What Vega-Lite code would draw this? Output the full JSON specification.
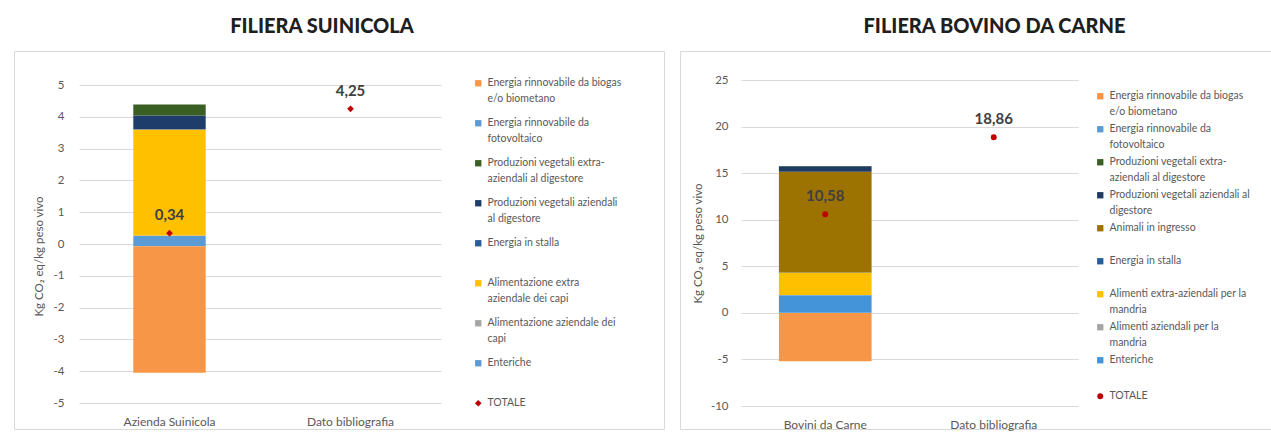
{
  "$schema": "https://vega.github.io/schema/vega-lite/v6.json",
  "background": "white",
  "padding": {"left": 13, "top": 16, "right": 0, "bottom": 0},
  "spacing": 14,
  "datasets": {
    "suini_voci": [
      {"categoria": "Azienda Suinicola", "voce": "Enteriche", "ordine": 1, "valore": 0.25},
      {"categoria": "Azienda Suinicola", "voce": "Alimentazione aziendale dei capi", "ordine": 2, "valore": 0.02},
      {"categoria": "Azienda Suinicola", "voce": "Alimentazione extra aziendale dei capi", "ordine": 3, "valore": 3.33},
      {"categoria": "Azienda Suinicola", "voce": "Energia in stalla", "ordine": 4, "valore": 0.02},
      {"categoria": "Azienda Suinicola", "voce": "Produzioni vegetali aziendali al digestore", "ordine": 5, "valore": 0.42},
      {"categoria": "Azienda Suinicola", "voce": "Produzioni vegetali extra-aziendali al digestore", "ordine": 6, "valore": 0.35},
      {"categoria": "Azienda Suinicola", "voce": "Energia rinnovabile da fotovoltaico", "ordine": 7, "valore": -0.07},
      {"categoria": "Azienda Suinicola", "voce": "Energia rinnovabile da biogas e/o biometano", "ordine": 8, "valore": -3.98}
    ],
    "suini_totali": [
      {"categoria": "Azienda Suinicola", "serie": "TOTALE", "totale": 0.34},
      {"categoria": "Dato bibliografia", "serie": "TOTALE", "totale": 4.25}
    ],
    "bovini_voci": [
      {"categoria": "Bovini da Carne", "voce": "Enteriche", "ordine": 1, "valore": 1.9},
      {"categoria": "Bovini da Carne", "voce": "Alimenti aziendali per la mandria", "ordine": 2, "valore": 0.02},
      {"categoria": "Bovini da Carne", "voce": "Alimenti extra-aziendali per la mandria", "ordine": 3, "valore": 2.38},
      {"categoria": "Bovini da Carne", "voce": "Energia in stalla", "ordine": 4, "valore": 0.02},
      {"categoria": "Bovini da Carne", "voce": "Animali in ingresso", "ordine": 5, "valore": 10.83},
      {"categoria": "Bovini da Carne", "voce": "Produzioni vegetali aziendali al digestore", "ordine": 6, "valore": 0.6},
      {"categoria": "Bovini da Carne", "voce": "Produzioni vegetali extra-aziendali al digestore", "ordine": 7, "valore": 0.03},
      {"categoria": "Bovini da Carne", "voce": "Energia rinnovabile da fotovoltaico", "ordine": 8, "valore": -0.02},
      {"categoria": "Bovini da Carne", "voce": "Energia rinnovabile da biogas e/o biometano", "ordine": 9, "valore": -5.18}
    ],
    "bovini_totali": [
      {"categoria": "Bovini da Carne", "serie": "TOTALE", "totale": 10.58},
      {"categoria": "Dato bibliografia", "serie": "TOTALE", "totale": 18.86}
    ]
  },
  "hconcat": [
    {
      "width": 650,
      "height": 378,
      "title": {"text": "FILIERA SUINICOLA", "dx": -17, "offset": 14},
      "layer": [
        {
          "data": {"name": "suini_voci"},
          "mark": {"type": "bar"},
          "encoding": {
            "x": {
              "field": "categoria", "type": "nominal", "title": null,
              "scale": {"domain": ["Azienda Suinicola", "Dato bibliografia"], "range": [65, 427], "paddingInner": 0.6, "paddingOuter": 0.3},
              "axis": {"orient": "bottom", "offset": -26, "labelPadding": 13}
            },
            "y": {
              "field": "valore", "type": "quantitative", "stack": "zero",
              "title": "Kg CO₂ eq/kg peso vivo",
              "scale": {"domain": [-5, 5], "range": [352, 34], "nice": false, "zero": false},
              "axis": {"offset": -65, "labelPadding": 15, "values": [-5, -4, -3, -2, -1, 0, 1, 2, 3, 4, 5], "tickCount": 20, "format": "d", "labelOverlap": false, "labelBound": false, "titleX": -40, "titleY": 205}
            },
            "color": {
              "field": "voce", "type": "nominal",
              "scale": {
                "domain": [
                  "Energia rinnovabile da biogas e/o biometano",
                  "Energia rinnovabile da fotovoltaico",
                  "Produzioni vegetali extra-aziendali al digestore",
                  "Produzioni vegetali aziendali al digestore",
                  "Energia in stalla",
                  "Alimentazione extra aziendale dei capi",
                  "Alimentazione aziendale dei capi",
                  "Enteriche"
                ],
                "range": ["#F79646", "#5B9BD5", "#3A5F24", "#1E3D6B", "#2B5C9A", "#FFC000", "#A5A5A5", "#5B9BD5"]
              },
              "legend": {
                "orient": "none", "legendX": 459, "legendY": 27, "rowPadding": 13,
                "encode": {"labels": {"update": {"lineHeight": {"value": 15.5}}}},
                "labelExpr": "datum.label == 'Energia rinnovabile da biogas e/o biometano' ? ['Energia rinnovabile da biogas', 'e/o biometano'] : datum.label == 'Energia rinnovabile da fotovoltaico' ? ['Energia rinnovabile da', 'fotovoltaico'] : datum.label == 'Produzioni vegetali extra-aziendali al digestore' ? ['Produzioni vegetali extra-', 'aziendali al digestore'] : datum.label == 'Produzioni vegetali aziendali al digestore' ? ['Produzioni vegetali aziendali', 'al digestore'] : datum.label == 'Alimentazione extra aziendale dei capi' ? ['Alimentazione extra', 'aziendale dei capi'] : datum.label == 'Alimentazione aziendale dei capi' ? ['Alimentazione aziendale dei', 'capi'] : [datum.label, '']"
              }
            },
            "order": {"field": "ordine", "type": "quantitative"}
          }
        },
        {
          "data": {"name": "suini_totali"},
          "mark": {"type": "point", "filled": true, "color": "#C00000", "size": 45, "opacity": 1},
          "encoding": {
            "x": {"field": "categoria", "type": "nominal", "title": null},
            "y": {"field": "totale", "type": "quantitative", "title": "Kg CO₂ eq/kg peso vivo"},
            "shape": {
              "field": "serie", "type": "nominal",
              "scale": {"domain": ["TOTALE"], "range": ["diamond"]},
              "legend": {"orient": "none", "legendX": 459, "legendY": 347, "symbolFillColor": "#C00000", "symbolStrokeColor": "#C00000", "symbolSize": 45}
            }
          }
        },
        {
          "data": {"name": "suini_totali"},
          "mark": {"type": "text", "dy": -18, "fontSize": 15, "fontWeight": "bold", "color": "#404040", "baseline": "middle"},
          "encoding": {
            "x": {"field": "categoria", "type": "nominal", "title": null},
            "y": {"field": "totale", "type": "quantitative", "title": "Kg CO₂ eq/kg peso vivo"},
            "text": {"field": "totale", "type": "quantitative", "format": ".2f"}
          }
        }
      ]
    },
    {
      "width": 593,
      "height": 378,
      "title": {"text": "FILIERA BOVINO DA CARNE", "dx": 18, "offset": 14},
      "layer": [
        {
          "data": {"name": "bovini_voci"},
          "mark": {"type": "bar"},
          "encoding": {
            "x": {
              "field": "categoria", "type": "nominal", "title": null,
              "scale": {"domain": ["Bovini da Carne", "Dato bibliografia"], "range": [61, 398], "paddingInner": 0.45, "paddingOuter": 0.225},
              "axis": {"orient": "bottom", "offset": -23, "labelPadding": 13}
            },
            "y": {
              "field": "valore", "type": "quantitative", "stack": "zero",
              "title": "Kg CO₂ eq/kg peso vivo",
              "scale": {"domain": [-10, 25], "range": [355, 29], "nice": false, "zero": false},
              "axis": {"offset": -61, "labelPadding": 13, "values": [-10, -5, 0, 5, 10, 15, 20, 25], "tickCount": 20, "format": "d", "labelOverlap": false, "labelBound": false, "titleX": -43, "titleY": 192}
            },
            "color": {
              "field": "voce", "type": "nominal",
              "scale": {
                "domain": [
                  "Energia rinnovabile da biogas e/o biometano",
                  "Energia rinnovabile da fotovoltaico",
                  "Produzioni vegetali extra-aziendali al digestore",
                  "Produzioni vegetali aziendali al digestore",
                  "Animali in ingresso",
                  "Energia in stalla",
                  "Alimenti extra-aziendali per la mandria",
                  "Alimenti aziendali per la mandria",
                  "Enteriche"
                ],
                "range": ["#F79646", "#5B9BD5", "#3A5F24", "#1E3B62", "#9C7200", "#2B5C9A", "#FFC000", "#A5A5A5", "#4494DA"]
              },
              "legend": {
                "orient": "none", "legendX": 415, "legendY": 40, "rowPadding": 6,
                "encode": {"labels": {"update": {"lineHeight": {"value": 15.5}}}},
                "labelExpr": "datum.label == 'Energia rinnovabile da biogas e/o biometano' ? ['Energia rinnovabile da biogas', 'e/o biometano'] : datum.label == 'Energia rinnovabile da fotovoltaico' ? ['Energia rinnovabile da', 'fotovoltaico'] : datum.label == 'Produzioni vegetali extra-aziendali al digestore' ? ['Produzioni vegetali extra-', 'aziendali al digestore'] : datum.label == 'Produzioni vegetali aziendali al digestore' ? ['Produzioni vegetali aziendali al', 'digestore'] : datum.label == 'Alimenti extra-aziendali per la mandria' ? ['Alimenti extra-aziendali per la', 'mandria'] : datum.label == 'Alimenti aziendali per la mandria' ? ['Alimenti aziendali per la', 'mandria'] : [datum.label, '']"
              }
            },
            "order": {"field": "ordine", "type": "quantitative"}
          }
        },
        {
          "data": {"name": "bovini_totali"},
          "mark": {"type": "point", "filled": true, "color": "#C00000", "size": 35, "opacity": 1},
          "encoding": {
            "x": {"field": "categoria", "type": "nominal", "title": null},
            "y": {"field": "totale", "type": "quantitative", "title": "Kg CO₂ eq/kg peso vivo"},
            "shape": {
              "field": "serie", "type": "nominal",
              "scale": {"domain": ["TOTALE"], "range": ["circle"]},
              "legend": {"orient": "none", "legendX": 415, "legendY": 340, "symbolFillColor": "#C00000", "symbolStrokeColor": "#C00000", "symbolSize": 35}
            }
          }
        },
        {
          "data": {"name": "bovini_totali"},
          "mark": {"type": "text", "dy": -18, "fontSize": 15, "fontWeight": "bold", "color": "#404040", "baseline": "middle"},
          "encoding": {
            "x": {"field": "categoria", "type": "nominal", "title": null},
            "y": {"field": "totale", "type": "quantitative", "title": "Kg CO₂ eq/kg peso vivo"},
            "text": {"field": "totale", "type": "quantitative", "format": ".2f"}
          }
        }
      ]
    }
  ],
  "resolve": {
    "scale": {"x": "independent", "y": "independent", "color": "independent", "shape": "independent"},
    "legend": {"color": "independent", "shape": "independent"}
  },
  "config": {
    "font": "Lato",
    "locale": {"number": {"decimal": ",", "thousands": ".", "grouping": [3], "currency": ["", " €"], "minus": "-"}},
    "view": {"stroke": "#D9D9D9", "strokeWidth": 1},
    "title": {"font": "Lato", "fontSize": 20, "fontWeight": 900, "color": "#1F1F1F", "anchor": "middle", "baseline": "bottom"},
    "axis": {
      "domain": false, "ticks": false, "grid": false,
      "labelFont": "Lato", "labelFontSize": 11.5, "labelColor": "#595959",
      "titleFont": "Lato", "titleFontSize": 11.5, "titleFontWeight": "normal", "titleColor": "#595959"
    },
    "axisX": {"labelAngle": 0, "labelFontSize": 12},
    "axisY": {"grid": true, "gridColor": "#D9D9D9", "gridWidth": 1, "titleBaseline": "middle", "labelOverlap": false},
    "legend": {
      "title": null, "padding": 0, "symbolType": "square", "symbolSize": 40, "symbolStrokeWidth": 0,
      "labelFont": "Lato", "labelFontSize": 10.5, "labelColor": "#595959", "labelLimit": 300, "labelOffset": 4
    }
  }
}
